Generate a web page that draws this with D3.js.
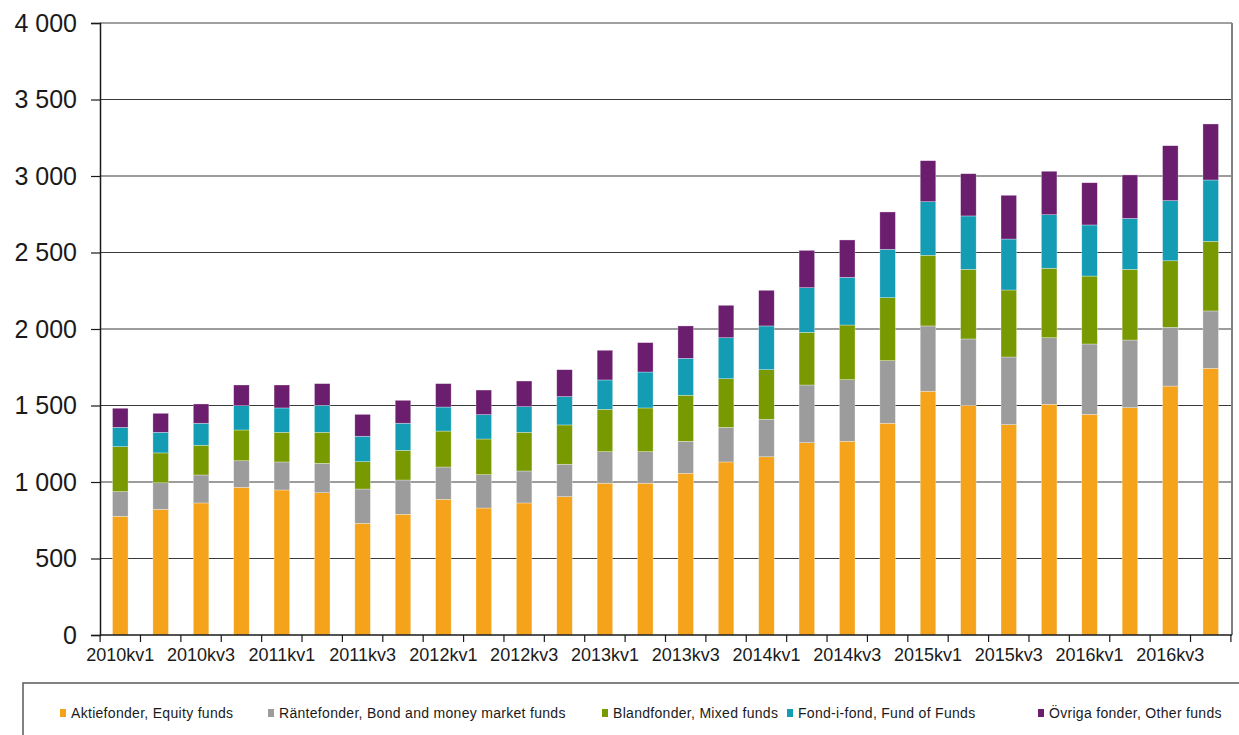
<!DOCTYPE html>
<html>
<head>
<meta charset="utf-8">
<script src="https://cdn.jsdelivr.net/npm/d3@7"></script>
<style>
  html, body { margin: 0; padding: 0; background: #fff; }
  svg { display: block; font-family: "Liberation Sans", Arial, sans-serif; }
</style>
</head>
<body>
<svg id="chart" width="1239" height="735"></svg>
<script>
const quarters = [
  "2010kv1","2010kv2","2010kv3","2010kv4",
  "2011kv1","2011kv2","2011kv3","2011kv4",
  "2012kv1","2012kv2","2012kv3","2012kv4",
  "2013kv1","2013kv2","2013kv3","2013kv4",
  "2014kv1","2014kv2","2014kv3","2014kv4",
  "2015kv1","2015kv2","2015kv3","2015kv4",
  "2016kv1","2016kv2","2016kv3","2016kv4"
];
const aktie  = [776,821,863,965,948,930,730,789,887,830,863,904,992,992,1057,1131,1165,1257,1266,1384,1593,1501,1375,1508,1442,1486,1627,1743];
const ranta  = [161,174,183,174,183,192,224,224,211,218,209,212,206,206,209,226,245,377,403,409,427,434,442,435,460,442,384,375];
const bland  = [294,195,194,201,194,203,179,194,235,233,253,257,277,286,301,318,324,344,357,412,462,455,438,454,444,462,435,455];
const fof    = [126,135,144,159,159,176,166,177,157,159,167,185,192,235,241,268,286,292,312,316,350,349,333,350,334,333,393,401];
const ovriga = [125,124,126,135,150,142,143,150,153,161,168,176,194,192,212,212,233,244,244,244,268,276,286,284,276,284,359,366];

const seriesNames = [
  "Aktiefonder, Equity funds",
  "Räntefonder, Bond and money market funds",
  "Blandfonder, Mixed funds",
  "Fond-i-fond, Fund of Funds",
  "Övriga fonder, Other funds"
];
const seriesColors = ["#F5A31A", "#9C9C9C", "#789A00", "#149CB4", "#6C1E6E"];
const yTicks = [0, 500, 1000, 1500, 2000, 2500, 3000, 3500, 4000];

const keys = ["aktie", "ranta", "bland", "fof", "ovriga"];
const seriesArrays = [aktie, ranta, bland, fof, ovriga];
const table = quarters.map((q, i) => {
  const row = { q };
  keys.forEach((k, j) => row[k] = seriesArrays[j][i]);
  return row;
});

const svg = d3.select("#chart");
const L = 100, R = 1231, T = 23, B = 635;

const x = d3.scaleBand().domain(quarters).range([L, R]).paddingInner(0.615).paddingOuter(0.31);
const y = d3.scaleLinear().domain([0, 4000]).range([B, T]);

// gridlines
svg.append("g").selectAll("line").data(yTicks.filter(v => v > 0 && v < 4000)).join("line")
  .attr("x1", L).attr("x2", R).attr("y1", d => y(d)).attr("y2", d => y(d))
  .attr("stroke", "#3a3a3a").attr("stroke-width", 1.2);

// plot frame top/right
svg.append("line").attr("x1", L).attr("x2", R + 1).attr("y1", y(4000)).attr("y2", y(4000))
  .attr("stroke", "#808080").attr("stroke-width", 1.5);
svg.append("line").attr("x1", R + 1).attr("x2", R + 1).attr("y1", y(4000)).attr("y2", B)
  .attr("stroke", "#808080").attr("stroke-width", 2);

// stacked bars
const stack = d3.stack().keys(keys)(table);
svg.append("g").selectAll("g").data(stack).join("g")
  .attr("fill", (d, i) => seriesColors[i])
  .selectAll("rect").data(d => d).join("rect")
  .attr("x", d => x(d.data.q))
  .attr("width", x.bandwidth())
  .attr("y", d => y(d[1]))
  .attr("height", d => y(d[0]) - y(d[1]))
  .attr("stroke", "rgba(255,255,255,0.5)")
  .attr("stroke-width", 0.6);

// y axis
const yAxis = d3.axisLeft(y).tickValues(yTicks).tickSize(9).tickPadding(14)
  .tickFormat(d => d3.format(",")(d).replace(/,/g, " "));
const gy = svg.append("g").attr("transform", `translate(${L},0)`).call(yAxis);
gy.select(".domain").attr("stroke", "#1a1a1a").attr("stroke-width", 1.5);
gy.selectAll(".tick line").attr("stroke", "#1a1a1a").attr("stroke-width", 1.2);
gy.selectAll(".tick text").attr("font-size", 25).attr("fill", "#1a1a1a")
  .attr("font-family", "Liberation Sans, Arial, sans-serif");

// x axis
const xAxis = d3.axisBottom(x).tickSize(0).tickPadding(13)
  .tickValues(quarters.filter((q, i) => i % 2 === 0));
const gx = svg.append("g").attr("transform", `translate(0,${B})`).call(xAxis);
gx.select(".domain").remove();
gx.selectAll(".tick text").attr("font-size", 18).attr("fill", "#1a1a1a")
  .attr("font-family", "Liberation Sans, Arial, sans-serif");
svg.append("line").attr("x1", L).attr("x2", R + 1).attr("y1", B).attr("y2", B)
  .attr("stroke", "#1a1a1a").attr("stroke-width", 1.5);
const step = x.step();
const gap = (step - x.bandwidth()) / 2;
const boundaries = quarters.map(q => x(q) - gap).concat([x(quarters[quarters.length - 1]) + x.bandwidth() + gap]);
svg.append("g").selectAll("line").data(boundaries).join("line")
  .attr("x1", d => d).attr("x2", d => d).attr("y1", B).attr("y2", B + 7)
  .attr("stroke", "#1a1a1a").attr("stroke-width", 1.2);

// legend box
svg.append("rect").attr("x", 23).attr("y", 683).attr("width", 1300).attr("height", 100)
  .attr("fill", "none").attr("stroke", "#595959").attr("stroke-width", 1.5);

const legendX = [60, 268, 602, 787, 1038];
const lg = svg.append("g").selectAll("g").data(seriesNames).join("g")
  .attr("transform", (d, i) => `translate(${legendX[i]},713)`);
lg.append("rect").attr("x", 0).attr("y", -4).attr("width", 6).attr("height", 8)
  .attr("fill", (d, i) => seriesColors[i]);
lg.append("text").attr("x", 11).attr("y", 5).attr("font-size", 14).attr("letter-spacing", 0.3)
  .attr("fill", "#1a1a1a")
  .text(d => d);
</script>
</body>
</html>
